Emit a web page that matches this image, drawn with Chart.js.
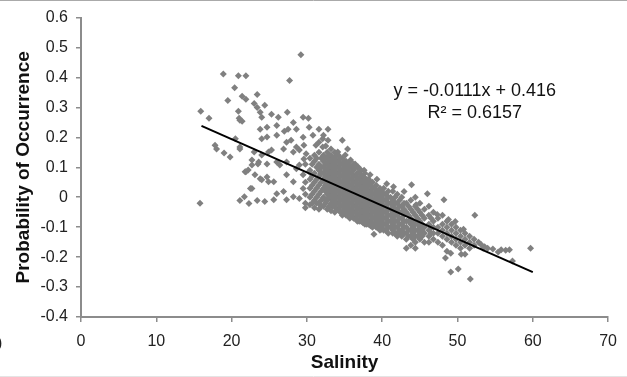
<!DOCTYPE html>
<html>
<head>
<meta charset="utf-8">
<script src="https://cdn.jsdelivr.net/npm/chart.js@4/dist/chart.umd.min.js"></script>
<style>
  html, body { margin: 0; padding: 0; background: #fff; }
  #wrap { width: 627px; height: 377px; position: relative; }
</style>
</head>
<body>
<div id="wrap"><canvas id="chart"></canvas></div>
<script>
// Scatter: scattered points to the upper left
const sparsePoints = [
  [15.8, -0.02], [15.9, 0.287], [17.0, 0.264], [18.9, 0.412], [20.9, 0.406], [21.9, 0.406],
  [27.7, 0.39], [29.2, 0.476], [20.4, 0.366], [23.4, 0.343], [21.4, 0.337], [21.9, 0.327],
  [19.5, 0.323], [23.0, 0.313], [24.4, 0.307], [23.4, 0.30], [23.8, 0.284], [20.9, 0.287],
  [21.0, 0.264], [21.4, 0.254], [25.3, 0.277], [27.4, 0.284], [26.2, 0.267], [24.0, 0.267],
  [26.0, 0.24], [28.2, 0.25], [29.5, 0.267], [27.5, 0.227], [28.6, 0.227], [24.7, 0.234],
  [21.1, 0.257], [23.8, 0.227], [24.0, 0.195], [26.0, 0.207], [27.0, 0.22], [30.2, 0.264],
  [27.9, 0.19], [30.3, 0.234], [31.6, 0.227], [32.8, 0.227], [29.6, 0.174], [32.1, 0.195],
  [32.5, 0.171], [34.7, 0.19], [35.4, 0.161], [28.2, 0.151], [26.9, 0.161], [24.9, 0.151],
  [22.7, 0.124], [23.5, 0.111], [22.2, 0.091], [17.8, 0.174], [18.0, 0.161], [19.0, 0.148],
  [19.8, 0.134], [20.5, 0.195], [21.1, 0.161], [23.8, 0.062], [24.7, 0.068], [25.6, 0.052],
  [23.1, 0.075], [26.0, 0.118], [27.3, 0.118], [28.6, 0.095], [29.6, 0.128], [30.3, 0.085],
  [21.8, 0.085], [22.5, 0.029], [21.1, 0.168], [24.7, 0.201], [24.0, 0.141], [23.0, 0.151],
  [25.3, 0.158], [23.6, 0.118], [22.7, 0.108], [24.7, 0.111], [21.9, 0.085], [24.0, 0.058],
  [24.9, 0.052], [22.7, 0.029], [21.7, 0.002], [21.1, -0.011], [22.3, -0.021], [23.4, -0.011],
  [24.4, -0.014], [25.6, -0.008], [26.0, 0.012], [26.9, 0.019], [27.3, -0.008], [28.2, 0.002],
  [29.0, -0.004], [27.3, 0.075], [28.2, 0.052], [26.4, 0.108], [28.6, 0.168], [29.0, 0.108],
  [29.5, 0.075], [27.3, 0.184], [29.5, 0.029], [29.5, 0.2], [30.8, 0.207], [32.2, 0.207],
  [31.6, 0.184], [32.8, 0.19], [29.0, 0.158], [29.9, 0.145], [31.2, 0.174], [32.1, 0.168],
  [33.2, 0.161], [34.1, 0.151], [35.1, 0.141], [35.8, 0.124], [36.4, 0.111], [36.8, 0.101],
  [37.6, 0.09], [38.4, 0.075], [39.3, 0.06], [40.6, 0.045], [41.5, 0.035]
];

// dense core, read column by column: [salinity, [probabilities]]
const coreColumns = [
  [29.8, [0.11, 0.05, 0.01, -0.02, -0.035]],
  [30.4, [0.13, 0.09, 0.06, 0.03, 0.0, -0.025]],
  [30.7, [0.11, 0.07, 0.04, 0.01, -0.02]],
  [31.0, [0.14, 0.12, 0.08, 0.05, 0.02, -0.01, -0.035]],
  [31.3, [0.13, 0.10, 0.06, 0.03, 0.0, -0.02]],
  [31.6, [0.15, 0.11, 0.09, 0.07, 0.04, 0.01, -0.02, -0.04]],
  [31.9, [0.13, 0.10, 0.08, 0.05, 0.02, -0.01, -0.03]],
  [32.2, [0.14, 0.12, 0.10, 0.08, 0.06, 0.03, 0.0, -0.03]],
  [32.45, [0.13, 0.11, 0.09, 0.07, 0.05, 0.04, 0.02, -0.01, -0.02]],
  [32.7, [0.15, 0.13, 0.11, 0.09, 0.07, 0.05, 0.03, 0.01, -0.01, -0.04]],
  [32.95, [0.14, 0.12, 0.10, 0.08, 0.06, 0.04, 0.02, 0.0, -0.03]],
  [33.2, [0.14, 0.12, 0.10, 0.08, 0.06, 0.04, 0.02, 0.0, -0.02, -0.045]],
  [33.45, [0.13, 0.11, 0.09, 0.07, 0.05, 0.03, 0.01, -0.01, -0.03]],
  [33.7, [0.15, 0.13, 0.11, 0.09, 0.07, 0.05, 0.03, 0.01, -0.01, -0.03, -0.05]],
  [33.95, [0.14, 0.12, 0.10, 0.08, 0.06, 0.04, 0.02, 0.0, -0.02, -0.04]],
  [34.2, [0.14, 0.12, 0.10, 0.08, 0.06, 0.04, 0.02, 0.0, -0.02, -0.04]],
  [34.45, [0.13, 0.11, 0.09, 0.07, 0.05, 0.03, 0.01, -0.01, -0.03, -0.05]],
  [34.7, [0.13, 0.11, 0.09, 0.07, 0.05, 0.03, 0.01, -0.01, -0.03, -0.05, -0.06]],
  [34.95, [0.12, 0.10, 0.08, 0.06, 0.04, 0.02, 0.0, -0.02, -0.04, -0.05]],
  [35.2, [0.12, 0.10, 0.08, 0.06, 0.04, 0.02, 0.0, -0.02, -0.04, -0.06]],
  [35.45, [0.11, 0.09, 0.07, 0.05, 0.03, 0.01, -0.01, -0.03, -0.05, -0.06]],
  [35.7, [0.12, 0.10, 0.08, 0.06, 0.04, 0.02, 0.0, -0.02, -0.04, -0.05, -0.07]],
  [35.95, [0.10, 0.08, 0.06, 0.04, 0.02, 0.0, -0.02, -0.04, -0.06]],
  [36.2, [0.11, 0.09, 0.07, 0.05, 0.03, 0.01, -0.01, -0.03, -0.05, -0.07]],
  [36.45, [0.10, 0.07, 0.05, 0.03, 0.01, -0.01, -0.03, -0.05, -0.07]],
  [36.7, [0.10, 0.08, 0.06, 0.04, 0.02, 0.0, -0.02, -0.04, -0.06, -0.08]],
  [36.95, [0.08, 0.06, 0.04, 0.02, 0.0, -0.02, -0.04, -0.06, -0.08]],
  [37.2, [0.09, 0.07, 0.05, 0.03, 0.01, -0.01, -0.03, -0.05, -0.07, -0.08]],
  [37.45, [0.07, 0.05, 0.03, 0.01, -0.01, -0.03, -0.05, -0.07, -0.085]],
  [37.7, [0.08, 0.06, 0.04, 0.02, 0.0, -0.02, -0.04, -0.06, -0.08, -0.09]],
  [37.95, [0.06, 0.05, 0.03, 0.01, -0.01, -0.03, -0.05, -0.07, -0.09]],
  [38.2, [0.06, 0.04, 0.02, 0.0, -0.02, -0.04, -0.06, -0.08, -0.09]],
  [38.45, [0.05, 0.04, 0.02, 0.0, -0.02, -0.04, -0.06, -0.08, -0.095]],
  [38.7, [0.05, 0.03, 0.01, -0.01, -0.03, -0.05, -0.07, -0.09, -0.10]],
  [38.95, [0.03, 0.01, -0.01, -0.03, -0.05, -0.07, -0.09]],
  [39.2, [0.04, 0.02, 0.0, -0.02, -0.04, -0.06, -0.08, -0.10]],
  [39.45, [0.02, 0.0, -0.02, -0.04, -0.06, -0.08, -0.10]],
  [39.7, [0.03, 0.01, -0.01, -0.03, -0.05, -0.07, -0.09, -0.11]],
  [39.95, [0.02, 0.0, -0.02, -0.04, -0.06, -0.08, -0.10]],
  [40.2, [0.03, 0.01, -0.01, -0.03, -0.05, -0.07, -0.09, -0.11]],
  [40.5, [0.01, -0.01, -0.03, -0.05, -0.07, -0.09, -0.11]],
  [40.8, [0.02, 0.0, -0.02, -0.04, -0.06, -0.08, -0.10, -0.12]],
  [41.1, [0.0, -0.02, -0.04, -0.06, -0.08, -0.10]],
  [41.4, [0.02, -0.01, -0.03, -0.05, -0.07, -0.09, -0.11, -0.12]],
  [41.7, [0.0, -0.02, -0.04, -0.06, -0.08, -0.10, -0.12]],
  [42.0, [0.01, -0.02, -0.04, -0.06, -0.08, -0.10, -0.12, -0.13]],
  [42.3, [-0.01, -0.03, -0.05, -0.07, -0.09, -0.11, -0.12]],
  [42.6, [0.0, -0.03, -0.05, -0.07, -0.09, -0.11, -0.13]],
  [42.9, [-0.02, -0.04, -0.06, -0.08, -0.10, -0.12]],
  [43.2, [-0.02, -0.05, -0.08, -0.10, -0.12, -0.14, -0.17]],
  [43.5, [-0.03, -0.06, -0.08, -0.11, -0.13]],
  [43.8, [-0.01, -0.04, -0.07, -0.09, -0.11, -0.13, -0.16]],
  [44.1, [-0.05, -0.08, -0.10, -0.12, -0.14]],
  [44.4, [0.0, -0.03, -0.06, -0.09, -0.11, -0.13, -0.15, -0.17]],
  [44.7, [-0.04, -0.07, -0.09, -0.11, -0.13]],
  [45.0, [-0.02, -0.05, -0.08, -0.10, -0.12, -0.14]],
  [45.3, [-0.06, -0.09, -0.11, -0.13]],
  [45.6, [-0.04, -0.07, -0.10, -0.12, -0.15]],
  [46.2, [-0.03, -0.06, -0.09, -0.11, -0.13, -0.15]],
  [46.5, [-0.07, -0.10, -0.12]],
  [46.8, [-0.05, -0.08, -0.10, -0.12, -0.14]],
  [47.4, [-0.07, -0.10, -0.12, -0.15]],
  [48.0, [-0.06, -0.09, -0.11, -0.13, -0.16]],
  [48.6, [-0.08, -0.10, -0.12, -0.14, -0.18]],
  [49.2, [-0.09, -0.11, -0.13, -0.15]],
  [49.8, [-0.10, -0.12, -0.14, -0.16]],
  [50.4, [-0.11, -0.13, -0.15, -0.17]],
  [51.0, [-0.12, -0.14, -0.16, -0.19]],
  [51.6, [-0.13, -0.15, -0.17]],
  [52.2, [-0.14, -0.16]]
];

// points at the high-salinity end and loose ones around the core
const tailPoints = [
  [52.3, -0.06], [53.1, -0.157], [53.6, -0.165], [54.0, -0.17], [54.7, -0.173], [55.4, -0.183],
  [55.8, -0.175], [56.4, -0.177], [56.9, -0.175], [57.3, -0.213], [59.7, -0.17], [48.4, -0.203],
  [49.1, -0.25], [50.1, -0.24], [51.7, -0.273], [38.9, -0.124], [39.9, -0.107], [43.9, 0.042],
  [42.9, 0.019], [46.0, 0.012], [48.2, -0.008], [44.5, -0.025], [47.3, -0.058], [48.8, -0.074],
  [49.7, -0.081], [50.8, -0.107], [50.5, -0.19], [49.1, -0.187], [52.8, -0.15], [53.4, -0.17]
];

// linear trend printed on the chart
const trendSlope = -0.0111;
const trendIntercept = 0.416;
const trendFrom = 16;
const trendTo = 60;
const equationText = 'y = -0.0111x + 0.416';
const r2Text = 'R\u00b2 = 0.6157';

const xTicks = [0, 70, 10];   // min, max, step
const yTicks = [-0.4, 0.6, 0.1];

const scatterData = [
  ...sparsePoints.map(([x, y]) => ({ x, y })),
  ...coreColumns.flatMap(([x, ys]) => ys.map(y => ({ x, y }))),
  ...tailPoints.map(([x, y]) => ({ x, y }))
];
const trendData = [trendFrom, trendTo].map(x => ({ x, y: trendSlope * x + trendIntercept }));

const FONT = "'Liberation Sans', Arial, sans-serif";

const annotations = {
  id: 'annotations',
  afterDatasetsDraw(chart) {
    const { ctx, scales: { x, y } } = chart;
    ctx.save();
    ctx.fillStyle = '#111';
    ctx.font = '18px ' + FONT;
    ctx.textAlign = 'center';
    ctx.textBaseline = 'middle';
    ctx.fillText(equationText, x.getPixelForValue(52.3), y.getPixelForValue(0.355));
    ctx.fillText(r2Text, x.getPixelForValue(52.3), y.getPixelForValue(0.28));
    ctx.restore();
  },
  afterDraw(chart) {
    // bits of the page cropped into the picture
    const ctx = chart.ctx;
    ctx.save();
    ctx.strokeStyle = '#aaa';
    ctx.lineWidth = 1;
    ctx.beginPath();
    ctx.moveTo(0, 0.5);
    ctx.lineTo(chart.width, 0.5);
    ctx.stroke();
    ctx.strokeStyle = '#e4e4e4';
    ctx.beginPath();
    ctx.moveTo(0, chart.height - 0.5);
    ctx.lineTo(chart.width, chart.height - 0.5);
    ctx.stroke();
    ctx.fillStyle = '#222';
    ctx.font = '16px ' + FONT;
    ctx.textBaseline = 'middle';
    ctx.fillText(')', -3, 344);
    ctx.restore();
  }
};

new Chart(document.getElementById('chart'), {
  type: 'scatter',
  data: {
    datasets: [{
      type: 'line',
      data: trendData,
      borderColor: '#000',
      borderWidth: 2,
      pointRadius: 0,
      fill: false
    }, {
      data: scatterData,
      pointStyle: 'rectRot',
      pointRadius: 3.5,
      pointBorderWidth: 0,
      backgroundColor: '#808080',
      borderColor: '#808080'
    }]
  },
  options: {
    responsive: true,
    maintainAspectRatio: false,
    animation: false,
    layout: { padding: { top: 15, right: 10, left: 0, bottom: 0 } },
    plugins: { legend: { display: false }, tooltip: { enabled: false } },
    scales: {
      x: {
        type: 'linear',
        min: xTicks[0], max: xTicks[1],
        ticks: { stepSize: xTicks[2], color: '#222', font: { family: FONT, size: 16 }, padding: 10, maxRotation: 0 },
        grid: { drawOnChartArea: false, tickLength: 5, color: '#8c8c8c', lineWidth: 1.5 },
        border: { color: '#8c8c8c', width: 2 },
        title: { display: true, text: 'Salinity', color: '#111', font: { family: FONT, size: 19, weight: 'bold' }, padding: { top: 0, bottom: 3 } },
        afterFit(scale) { scale.height = 60; }
      },
      y: {
        min: yTicks[0], max: yTicks[1],
        ticks: {
          stepSize: yTicks[2], color: '#222', font: { family: FONT, size: 16 }, padding: 8,
          callback: v => String(Number(v.toFixed(1)))
        },
        grid: { drawOnChartArea: false, tickLength: 5, color: '#8c8c8c', lineWidth: 1.5 },
        border: { color: '#8c8c8c', width: 2 },
        title: { display: true, text: 'Probability of Occurrence', color: '#111', font: { family: FONT, size: 19, weight: 'bold' }, padding: { top: 12, bottom: 0 } },
        afterFit(scale) { scale.width = 81; }
      }
    }
  },
  plugins: [annotations]
});
</script>
</body>
</html>
